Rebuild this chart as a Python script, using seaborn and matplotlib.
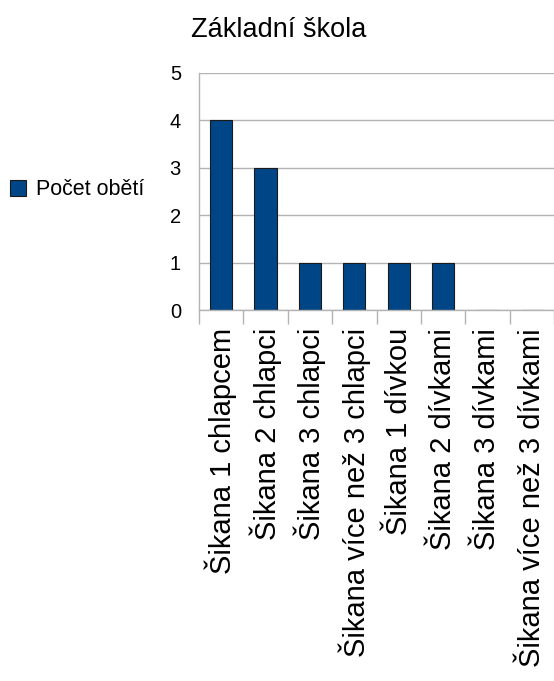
import matplotlib
matplotlib.use("Agg")
import matplotlib.pyplot as plt
import seaborn as sns
import pandas as pd
from matplotlib.patches import Patch

categories = ["Šikana 1 chlapcem", "Šikana 2 chlapci", "Šikana 3 chlapci",
              "Šikana více než 3 chlapci", "Šikana 1 dívkou", "Šikana 2 dívkami",
              "Šikana 3 dívkami", "Šikana více než 3 dívkami"]
values = [4, 3, 1, 1, 1, 1, 0, 0]
series_name = "Počet obětí"
title = "Základní škola"
yticks = [0, 1, 2, 3, 4, 5]

sns.set_theme(style="white")
plt.rcParams['font.family'] = ['Liberation Sans', 'DejaVu Sans']
plt.rcParams['text.color'] = 'black'
plt.rcParams['xtick.color'] = 'black'
plt.rcParams['ytick.color'] = 'black'

df = pd.DataFrame({"cat": categories, "val": values, "series": series_name})

fig = plt.figure(figsize=(5.54, 6.81), dpi=100)
ax = fig.add_axes([199/554, (681-310)/681, (554-199)/554, (310-73)/681])

sns.barplot(data=df, x="cat", y="val", color="#004586", width=0.5,
            edgecolor="#1a1a1a", linewidth=0.8, ax=ax, saturation=1)

ax.set_xlim(-0.5, 7.5)
ax.set_ylim(0, 5)
ax.set_yticks(yticks)
ax.set_yticklabels([str(t) for t in yticks], fontsize=14.5)
ax.yaxis.grid(True, color="#b3b3b3", linewidth=1)
ax.set_axisbelow(True)
ax.set_xlabel("")
ax.set_ylabel("")

for s in ["top", "right"]:
    ax.spines[s].set_visible(False)
for s in ["left", "bottom"]:
    ax.spines[s].set_color("#b3b3b3")
    ax.spines[s].set_linewidth(1)

ax.tick_params(axis="y", length=10, color="#b3b3b3", width=1, pad=3, labelcolor="black")
ax.set_xticks(range(len(categories)))
ax.set_xticklabels(categories, rotation=90, fontsize=21, va="top", ha="center")
ax.tick_params(axis="x", which="major", length=0, pad=13, labelcolor="black")
ax.set_xticks([i + 0.5 for i in range(-1, len(categories))], minor=True)
ax.tick_params(axis="x", which="minor", length=10, color="#b3b3b3", width=1, bottom=True)

fig.text(279/554, 1 - 37/681, title, ha="center", va="baseline", fontsize=19.5, color="black")

handles = [Patch(facecolor="#004586", edgecolor="#1a1a1a", linewidth=0.8, label=series_name)]
leg = fig.legend(handles=handles, loc="center left", bbox_to_anchor=(10/554, 1 - 190/681),
                 frameon=False, fontsize=15.5, handlelength=0.75, handleheight=0.75,
                 handletextpad=0.45, borderaxespad=0, borderpad=0)
for t in leg.get_texts():
    t.set_color("black")

fig.savefig("out.png", dpi=100)
